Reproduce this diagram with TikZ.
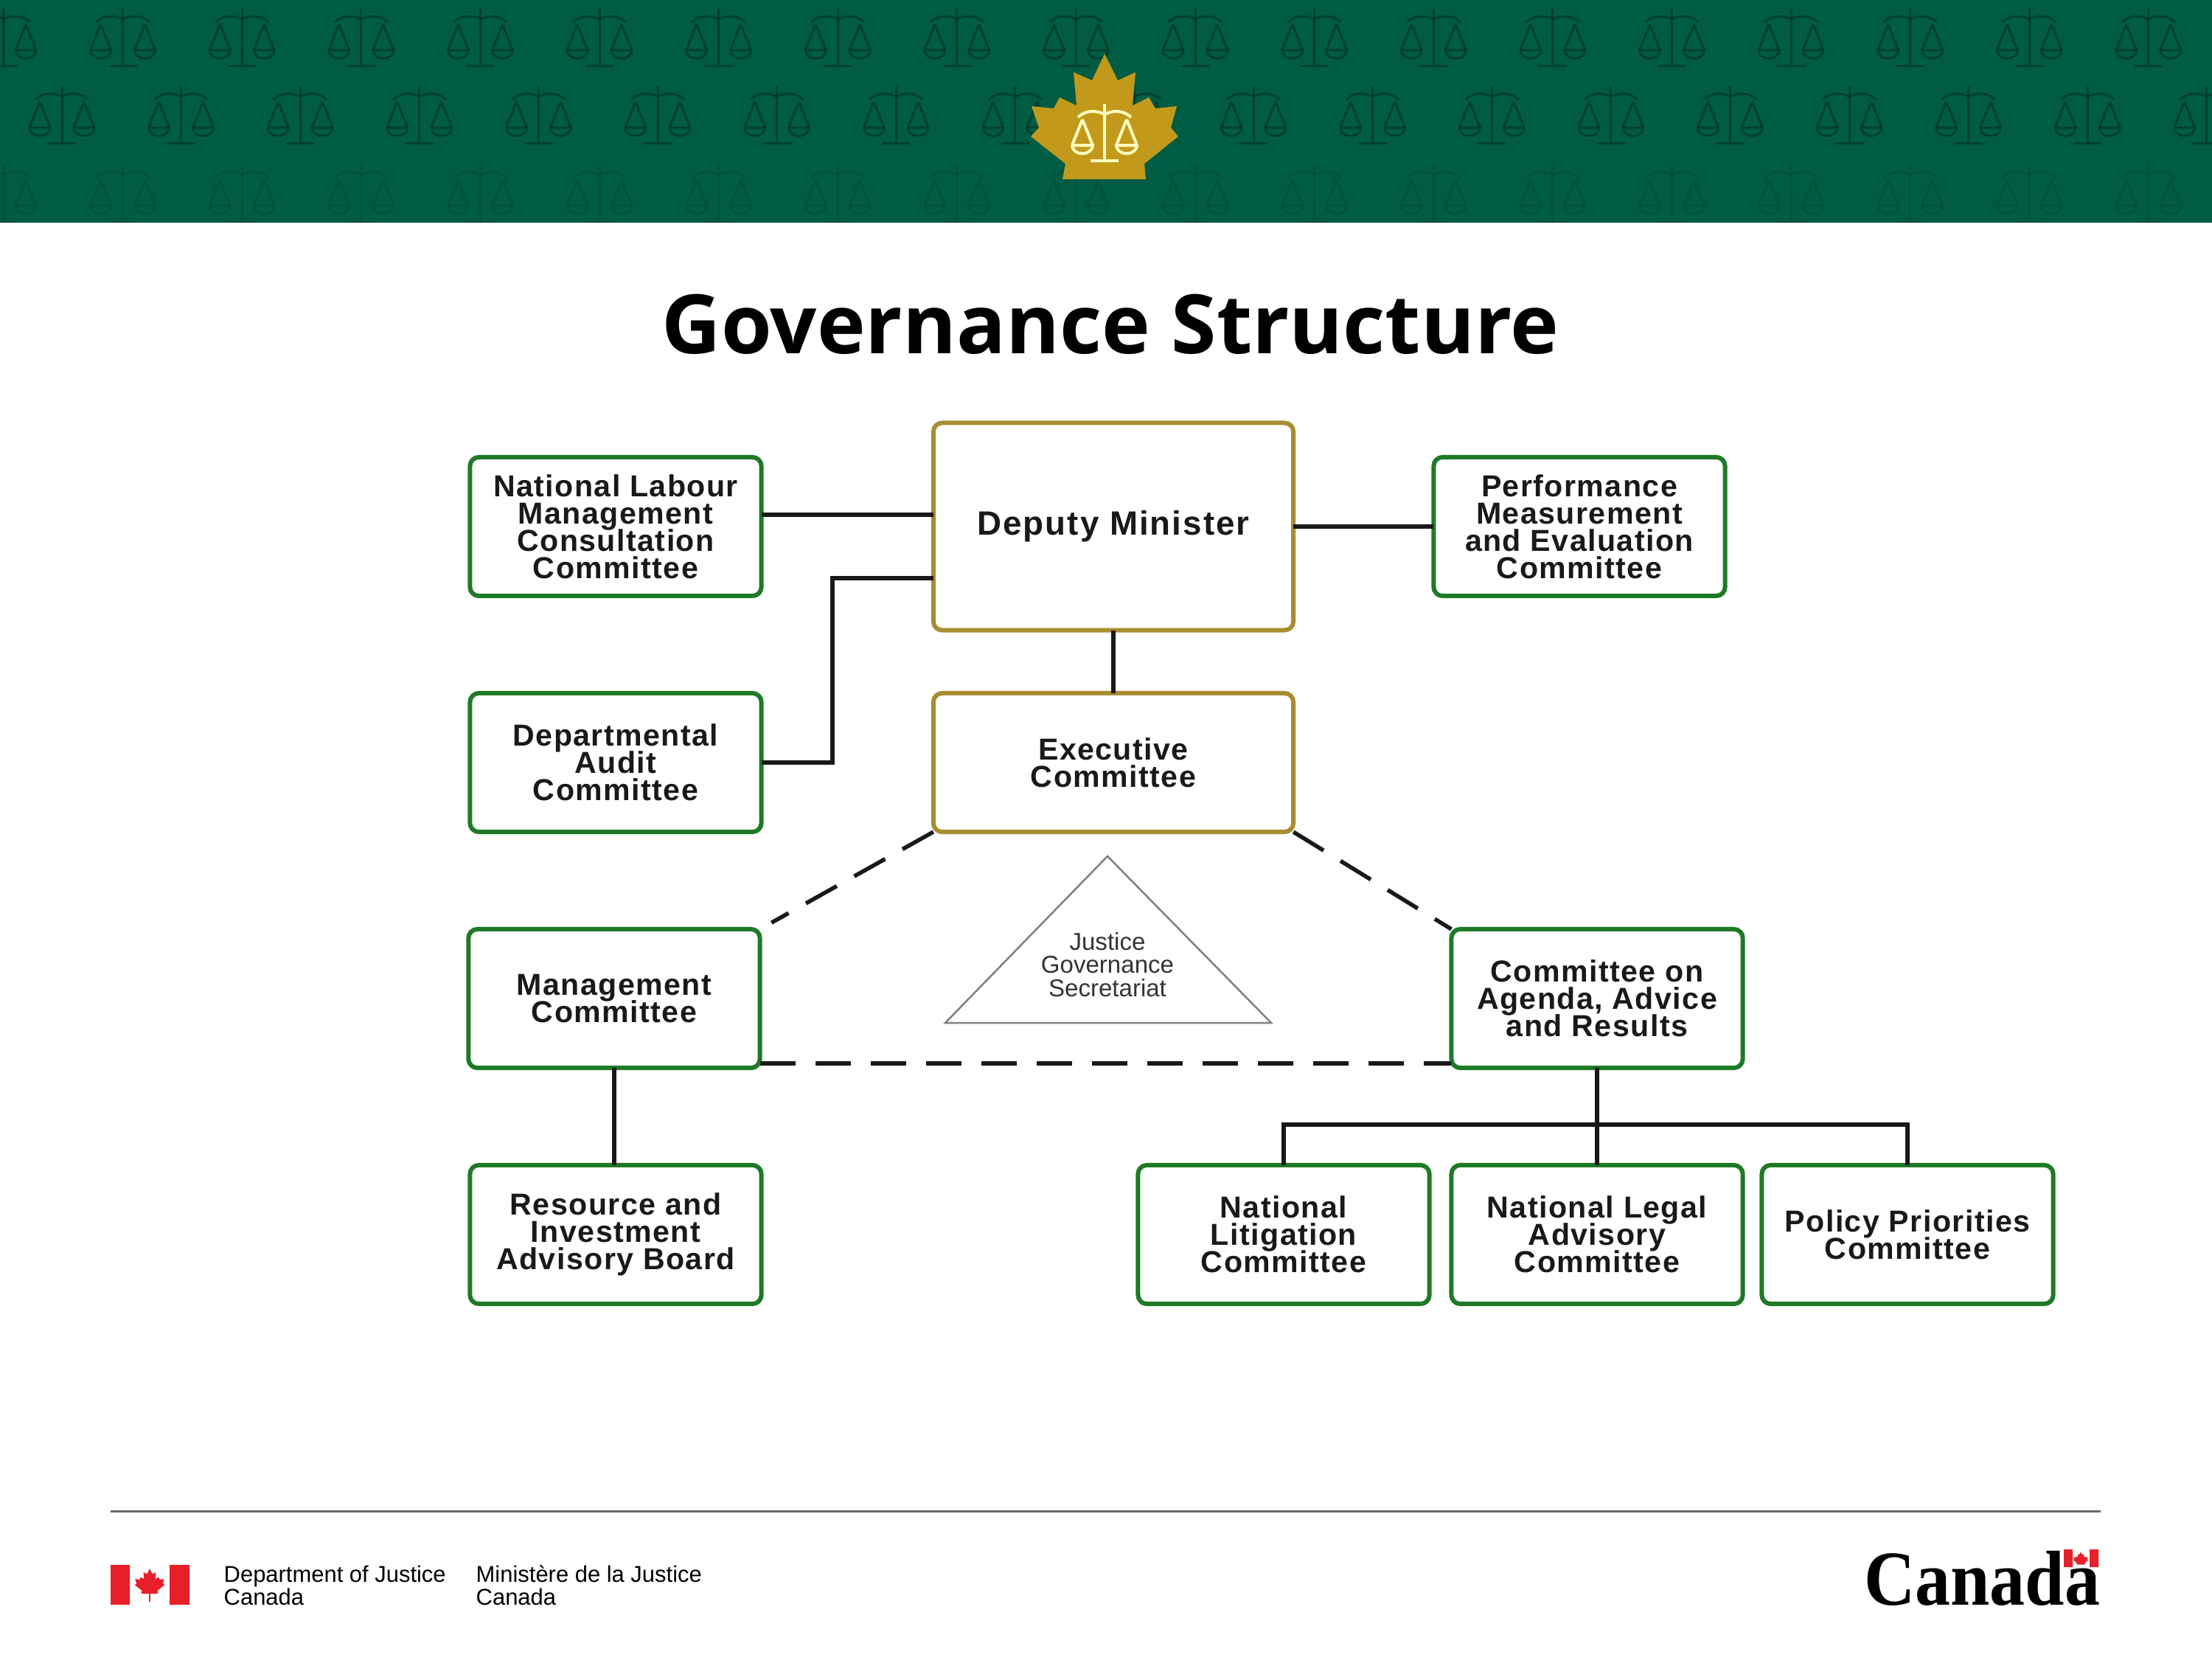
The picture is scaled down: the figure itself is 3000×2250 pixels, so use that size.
\documentclass[tikz,border=0pt]{standalone}
\usepackage{fontspec}
\setmainfont{Liberation Sans}
\newfontfamily\titlefont{Open Sans}
\newfontfamily\wordfont{Liberation Serif}
\newcommand{\tightlines}{\lineskiplimit-20pt\relax}
\definecolor{bandgreen}{HTML}{005C43}
\definecolor{leafgold}{HTML}{C2991A}
\definecolor{boxgreen}{HTML}{1E7A26}
\definecolor{boxgold}{HTML}{A88C30}
\definecolor{flagred}{HTML}{E8202A}
\tikzset{
	comm/.style={draw=boxgreen,line width=0.06cm,rounded corners=0.12cm,outer sep=0pt,minimum width=3.95cm,minimum height=1.88cm,align=center,inner sep=0pt,font=\fontsize{11.7}{10.5}\selectfont\tightlines\bfseries\addfontfeature{LetterSpace=3.5},text=black!90},
	head/.style={comm,draw=boxgold},
	link/.style={line width=0.055cm,black!90},
	dashlink/.style={link,dash pattern=on 0.48cm off 0.27cm},
	pics/scales/.style={code={
		\draw[line width=#1] (0,-77) -- (0,0) (-19,0) -- (19,0);
		\draw[line width=#1] (-36,-59) .. controls (-24,-70) and (-10,-68) .. (0,-63) .. controls (10,-68) and (24,-70) .. (36,-59);
		\foreach \s in {-1,1} {
			\draw[line width=#1] (\s*30,-56) -- (\s*44,-21) (\s*30,-56) -- (\s*16,-21);
			\draw[line width=#1] (\s*44,-21) -- (\s*16,-21) .. controls (\s*17,-6) and (\s*43,-6) .. (\s*44,-21);
		}
	}},
	pics/mapleleaf/.style={code={
		\fill (0,-85) -- (18,-49) -- (42,-60) -- (38,-15) -- (60,-26) -- (69,-11) -- (98,-14) -- (90,15) -- (100,27) -- (54,64) -- (56,85) -- (-57,85) -- (-53,64) -- (-100,27) -- (-89,15) -- (-99,-14) -- (-69,-11) -- (-61,-26) -- (-38,-15) -- (-42,-60) -- (-17,-49) -- cycle;
	}}
}
\begin{document}
\begin{tikzpicture}[x=0.01cm,y=-0.01cm]
	\useasboundingbox (0,0) rectangle (3000,2250);
	% the green band with its rows of scales
	\fill[bandgreen] (0,0) rectangle (3000,302);
	\begin{scope}
		\clip (0,0) rectangle (3000,302);
		\foreach \k in {0,...,18} {
			\pic[draw=black!70!bandgreen,opacity=.42] at (5+\k*161.6,89) {scales=0.03cm};
			\pic[draw=black!70!bandgreen,opacity=.42] at (84+\k*161.6,194) {scales=0.03cm};
			\pic[draw=black!70!bandgreen,opacity=.14] at (5+\k*161.6,300) {scales=0.03cm};
		}
	\end{scope}
	% the gold leaf
	\pic[fill=leafgold] at (1498,158) {mapleleaf};
	\pic[draw=yellow!25!white] at (1498,218) {scales=0.04cm};
	% title
	\node[font=\titlefont\fontsize{31.6}{36}\selectfont\bfseries] (title) at (1506,440) {Governance Structure};
	% committees
	\node[comm] (labour) at (835,714) {National Labour\\Management\\Consultation\\Committee};
	\node[head,minimum width=4.88cm,minimum height=2.81cm,font=\fontsize{13}{15}\selectfont\bfseries\addfontfeature{LetterSpace=4.4}] (deputy) at (1510,714) {Deputy Minister};
	\node[comm] (perf) at (2142,714) {Performance\\Measurement\\and Evaluation\\Committee};
	\node[comm] (audit) at (835,1034) {Departmental\\Audit\\Committee};
	\node[head,minimum width=4.88cm] (exec) at (1510,1034) {Executive\\Committee};
	\node[comm] (mgmt) at (833,1354) {Management\\Committee};
	\node[comm] (agenda) at (2166,1354) {Committee on\\Agenda, Advice\\and Results};
	\node[comm] (resource) at (835,1674) {Resource and\\Investment\\Advisory Board};
	\node[comm] (litigation) at (1741,1674) {National\\Litigation\\Committee};
	\node[comm] (legal) at (2166,1674) {National Legal\\Advisory\\Committee};
	\node[comm] (policy) at (2587,1674) {Policy Priorities\\Committee};
	% the solid links
	\draw[link] ([yshift=0.16cm]labour.east) -- ([yshift=0.16cm]deputy.west);
	\draw[link] (deputy.east) -- (perf.west);
	\coordinate (auditbend) at (1129,784);
	\draw[link] (audit.east) -| (auditbend) -- (auditbend -| deputy.west);
	\draw[link] (deputy.south) -- (exec.north);
	\draw[link] (mgmt.south) -- (mgmt.south |- resource.north);
	\coordinate (bus) at (2166,1525);
	\draw[link] (agenda.south) -- (legal.north);
	\draw[link] (litigation.north) |- (bus) -| (policy.north);
	% the dashed links
	\draw[dashlink,shorten >=0.18cm] (exec.south west) -- (mgmt.north east);
	\draw[dashlink] (exec.south east) -- (agenda.north west);
	\draw[dashlink] ([yshift=0.06cm]mgmt.south east) -- ([yshift=0.06cm]agenda.south west);
	% the secretariat triangle
	\draw[gray,line width=0.025cm] (1502,1161) -- (1724,1387) -- (1282,1387) -- cycle;
	\node[align=center,inner sep=0pt,text=black!80,font=\fontsize{9.4}{9}\selectfont\tightlines] (secretariat) at (1502,1308) {Justice\\Governance\\Secretariat};
	% footer rule
	\draw[black!60,line width=0.03cm] (150,2049) -- (2849,2049);
	% flag and department names
	\fill[flagred] (150,2122) rectangle (176,2176) (230,2122) rectangle (257,2176);
	\pic[fill=flagred,scale=.2] at (203,2144) {mapleleaf};
	\fill[flagred] (202,2155) rectangle (204,2172);
	\node[anchor=base west,align=left,inner sep=0pt,font=\fontsize{8.8}{8.8}\selectfont\tightlines] (deptname) at (303,2176) {Department of Justice\\Canada};
	\node[anchor=base west,align=left,inner sep=0pt,font=\fontsize{8.8}{8.8}\selectfont\tightlines] (ministere) at (645,2176) {Ministère de la Justice\\Canada};
	% wordmark
	\node[anchor=base east,inner sep=0pt,transform shape,xscale=.91,font=\wordfont\fontsize{30}{30}\selectfont\bfseries] (canada) at (2849,2176) {Canada};
	\fill[flagred] (2799,2101) rectangle (2811,2125) (2834,2101) rectangle (2846,2125);
	\pic[fill=flagred,scale=.1] at (2822,2113) {mapleleaf};
\end{tikzpicture}
\end{document}
